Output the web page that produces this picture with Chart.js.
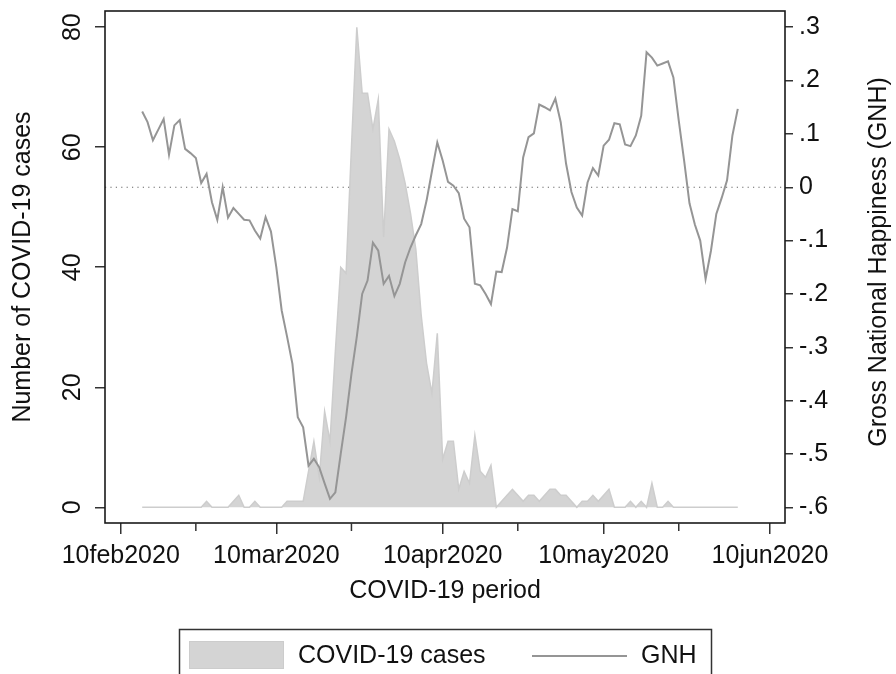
<!DOCTYPE html>
<html>
<head>
<meta charset="utf-8">
<script src="https://cdn.jsdelivr.net/npm/chart.js@4.4.1/dist/chart.umd.min.js"></script>
<style>
html, body { margin: 0; padding: 0; background: #fff; }
#wrap { width: 896px; height: 674px; }
</style>
</head>
<body>
<div id="wrap"><canvas id="chart" width="896" height="674"></canvas></div>
<script>
// daily series, 14feb2020 .. 04jun2020
const firstDay = '2020-02-14';

const cases = [
    0, 0, 0, 0, 0, 0, 0, 0, 0, 0, 0, 0, 1, 0, 0, 0, 0, 1, 2, 0,
    0, 1, 0, 0, 0, 0, 0, 1, 1, 1, 1, 6, 11, 5, 16, 11, 26, 40, 39, 60,
    80, 69, 69, 63, 68, 45, 63, 61, 58, 54, 49, 43, 32, 24, 19, 29, 8, 11, 11, 3,
    6, 4, 12, 6, 5, 7, 0, 1, 2, 3, 2, 1, 2, 2, 1, 2, 3, 3, 2, 2,
    1, 0, 1, 1, 2, 1, 2, 3, 0, 0, 0, 1, 0, 1, 0, 4, 0, 0, 1, 0,
    0, 0, 0, 0, 0, 0, 0, 0, 0, 0, 0, 0
];

const gnh = [
    .142, .122, .088, .108, .128, .061, .116, .126, .072, .064,
    .055, .008, .025, -.028, -.061, 0, -.057, -.039, -.050, -.061,
    -.062, -.081, -.096, -.056, -.083, -.150, -.231, -.280, -.331, -.431,
    -.450, -.522, -.509, -.525, -.555, -.584, -.572, -.500, -.431, -.350,
    -.280, -.200, -.175, -.104, -.119, -.181, -.166, -.204, -.181, -.141,
    -.113, -.090, -.069, -.025, .030, .084, .050, .010, .003, -.011,
    -.059, -.075, -.181, -.184, -.200, -.219, -.158, -.159, -.113, -.041,
    -.045, .056, .094, .101, .155, .150, .144, .166, .122, .044,
    -.009, -.038, -.053, .009, .036, .022, .078, .089, .120, .118,
    .080, .077, .097, .134, .253, .243, .228, .232, .236, .206,
    .125, .050, -.030, -.070, -.100, -.172, -.119, -.050, -.020, .013,
    .097, .147
];

const xTickDates = ['2020-02-10', '2020-03-10', '2020-04-10', '2020-05-10', '2020-06-10'];
const xTickLabels = ['10feb2020', '10mar2020', '10apr2020', '10may2020', '10jun2020'];
const xMinorDates = ['2020-02-24', '2020-03-24', '2020-04-24', '2020-05-24'];
const casesTicks = [0, 20, 40, 60, 80];
const gnhTicks = [-.6, -.5, -.4, -.3, -.2, -.1, 0, .1, .2, .3];

const FONT = '"Liberation Sans", Arial, Helvetica, sans-serif';
const INK = '#111';
const AREA = '#d4d4d4';
const LINE = '#959595';

// day number counted from 10feb2020
const dayNum = iso => Math.round((Date.parse(iso) - Date.parse('2020-02-10')) / 86400000);
const d0 = dayNum(firstDay);

const fmtGnh = v => {
    if (Math.abs(v) < 1e-9) return '0';
    let s = Math.abs(v).toFixed(1).replace(/^0/, '');
    return (v < 0 ? '-' : '') + s;
};

Chart.defaults.font.family = FONT;
Chart.defaults.color = INK;

const framePlugin = {
    id: 'stataFrame',
    beforeDatasetsDraw(chart) {
        // dotted reference line at GNH = 0
        const {ctx, chartArea: a, scales} = chart;
        const y = scales.y2.getPixelForValue(0);
        ctx.save();
        ctx.strokeStyle = '#666';
        ctx.lineWidth = 1.2;
        ctx.setLineDash([1.2, 4.2]);
        ctx.beginPath();
        ctx.moveTo(a.left, y);
        ctx.lineTo(a.right, y);
        ctx.stroke();
        ctx.restore();
    },
    afterDraw(chart) {
        const {ctx, chartArea: a, scales} = chart;
        ctx.save();
        // plot region box
        ctx.strokeStyle = '#1a1a1a';
        ctx.lineWidth = 1.6;
        ctx.strokeRect(a.left, a.top, a.right - a.left, a.bottom - a.top);

        // minor ticks on the date axis
        ctx.strokeStyle = '#333';
        ctx.lineWidth = 1.5;
        xMinorDates.forEach(d => {
            const x = scales.x.getPixelForValue(dayNum(d));
            ctx.beginPath();
            ctx.moveTo(x, a.bottom);
            ctx.lineTo(x, a.bottom + 8);
            ctx.stroke();
        });

        // right axis title, reading bottom to top
        ctx.fillStyle = INK;
        ctx.font = '25px ' + FONT;
        ctx.textAlign = 'center';
        ctx.textBaseline = 'middle';
        ctx.translate(879, 262);
        ctx.rotate(-Math.PI / 2);
        ctx.fillText('Gross National Happiness (GNH)', 0, 0);
        ctx.restore();

        // legend box
        ctx.save();
        ctx.strokeStyle = '#333';
        ctx.lineWidth = 1.5;
        ctx.strokeRect(179.5, 629.5, 532, 60);
        ctx.fillStyle = AREA;
        ctx.fillRect(189, 641, 95, 28);
        ctx.strokeStyle = '#cccccc';
        ctx.lineWidth = 1;
        ctx.strokeRect(189.5, 641.5, 94, 27);
        ctx.strokeStyle = LINE;
        ctx.lineWidth = 2;
        ctx.beginPath();
        ctx.moveTo(532, 656);
        ctx.lineTo(627, 656);
        ctx.stroke();
        ctx.fillStyle = INK;
        ctx.font = '25px ' + FONT;
        ctx.textAlign = 'left';
        ctx.textBaseline = 'middle';
        ctx.fillText('COVID-19 cases', 298, 656);
        ctx.fillText('GNH', 641, 656);
        ctx.restore();
    }
};

new Chart(document.getElementById('chart'), {
    data: {
        datasets: [
            {
                type: 'line',
                label: 'GNH',
                data: gnh.map((v, i) => ({x: d0 + i, y: v})),
                yAxisID: 'y2',
                borderColor: LINE,
                borderWidth: 2,
                pointRadius: 0,
                tension: 0,
                fill: false,
                order: 0
            },
            {
                type: 'line',
                label: 'COVID-19 cases',
                data: cases.map((v, i) => ({x: d0 + i, y: v})),
                yAxisID: 'y',
                borderColor: '#cdcdcd',
                borderWidth: 1.5,
                backgroundColor: AREA,
                pointRadius: 0,
                tension: 0,
                fill: 'origin',
                order: 1
            }
        ]
    },
    options: {
        responsive: false,
        animation: false,
        layout: { padding: { top: 11, left: 0, right: 0, bottom: 0 } },
        plugins: {
            legend: { display: false },
            tooltip: { enabled: false }
        },
        scales: {
            x: {
                type: 'linear',
                position: 'bottom',
                min: -2.93,
                max: 123.8,
                afterBuildTicks: s => { s.ticks = xTickDates.map(d => ({value: dayNum(d)})); },
                afterFit: s => { s.height = 151; s.paddingLeft = 0; s.paddingRight = 0; },
                ticks: {
                    callback: (v, i) => xTickLabels[i],
                    font: { size: 25 },
                    color: INK,
                    padding: 7,
                    maxRotation: 0,
                    autoSkip: false
                },
                grid: { drawOnChartArea: false, tickLength: 11, color: '#333', lineWidth: 1.5 },
                border: { display: false },
                title: {
                    display: true,
                    text: 'COVID-19 period',
                    font: { size: 25 },
                    color: INK,
                    padding: { top: 0, bottom: 68 }
                }
            },
            y: {
                type: 'linear',
                position: 'left',
                min: -2.617,
                max: 82.7,
                afterBuildTicks: s => { s.ticks = casesTicks.map(v => ({value: v})); },
                afterFit: s => { s.width = 105; s.paddingTop = 0; s.paddingBottom = 0; },
                ticks: {
                    font: { size: 25 },
                    color: INK,
                    minRotation: 90,
                    maxRotation: 90,
                    crossAlign: 'center',
                    padding: 7.5
                },
                grid: { drawOnChartArea: false, tickLength: 10, color: '#333', lineWidth: 1.5 },
                border: { display: false },
                title: {
                    display: true,
                    text: 'Number of COVID-19 cases',
                    font: { size: 25 },
                    color: INK,
                    padding: { top: 8, bottom: 0 }
                }
            },
            y2: {
                type: 'linear',
                position: 'right',
                min: -.6294,
                max: .3304,
                afterBuildTicks: s => { s.ticks = gnhTicks.map(v => ({value: v})); },
                afterFit: s => { s.width = 111; s.paddingTop = 0; s.paddingBottom = 0; },
                ticks: {
                    font: { size: 25 },
                    color: INK,
                    padding: 6,
                    callback: v => fmtGnh(v)
                },
                grid: { drawOnChartArea: false, tickLength: 8, color: '#333', lineWidth: 1.5 },
                border: { display: false }
            }
        }
    },
    plugins: [framePlugin]
});
</script>
</body>
</html>
